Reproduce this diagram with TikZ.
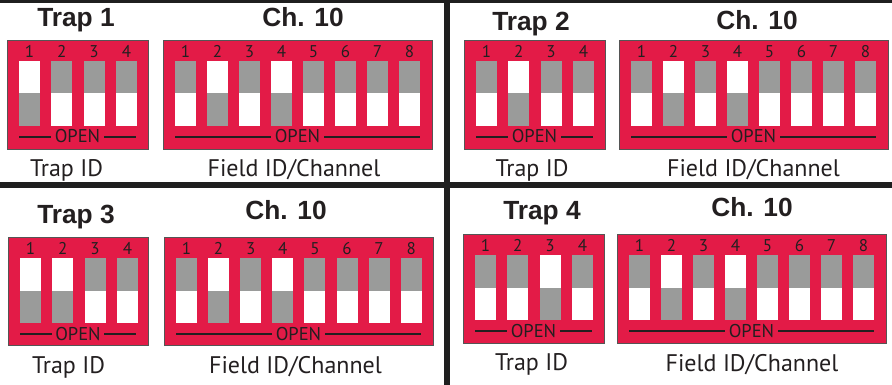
\documentclass[tikz,border=0pt]{standalone}
\usepackage{fontspec}
\setmainfont{PT Sans}
\newfontfamily\titlefont{Liberation Sans}
\definecolor{dipred}{HTML}{E31B47}
\definecolor{swgray}{HTML}{9A9B9A}
\definecolor{textdark}{HTML}{231F20}
\definecolor{boxedge}{HTML}{555555}
\tikzset{
  dipbox/.style={fill=dipred, draw=boxedge, line width=0.8pt, inner sep=0pt, outer sep=0pt},
  titlelbl/.style={font=\titlefont\bfseries\fontsize{26.3}{26.3}\selectfont, text=textdark, anchor=base, inner sep=0pt},
  caplbl/.style={font=\fontsize{24}{24}\selectfont, text=textdark, anchor=base, inner sep=0pt},
  numlbl/.style={font=\fontsize{17}{17}\selectfont, text=textdark, anchor=base, inner sep=0pt},
  openlbl/.style={font=\fontsize{18.5}{18.5}\selectfont, text=textdark, fill=dipred, anchor=base, inner xsep=3.5pt, inner ysep=0pt},
  openline/.style={draw=textdark, line width=1.2pt},
  divider/.style={fill=black!88}
}
\newcommand\dipbank[7]{%
  \node[dipbox, minimum width=#4, minimum height=#5, anchor=north west] (#1) at (#2,#3) {};
  \draw[openline] (#2+12,#3+97) -- (#2+#4-12,#3+97);
  \node[openlbl] (#1-open) at (#2+#4/2,#3+103) {OPEN};
  \foreach \i/\s in {#7}{
    \pgfmathsetmacro\sx{#2+12+(\i-1)*#6}
    \node[numlbl] (#1-n\i) at (\sx+10.5,#3+17.5) {\i};
    \fill[white] (\sx,#3+21) rectangle ++(21,65);
    \ifnum\s=1\relax
      \fill[swgray] (\sx,#3+53.5) rectangle ++(21,32.5);
    \else
      \fill[swgray] (\sx,#3+21) rectangle ++(21,32.5);
    \fi
  }%
}
\begin{document}
\begin{tikzpicture}[x=1pt,y=-1pt]
\useasboundingbox (0,0) rectangle (892,385);
\fill[white] (0,0) rectangle (892,385);
% dividers
\fill[divider] (0,0) rectangle (892,3);
\fill[divider] (0,182) rectangle (892,188);
\fill[divider] (443.5,0) rectangle (450,385);
% Trap 1
\dipbank{t1}{7}{40}{141}{109}{32.3}{1/1,2/0,3/0,4/0}
\dipbank{c1}{163}{40}{269}{109}{32}{1/0,2/1,3/0,4/1,5/0,6/0,7/0,8/0}
\node[titlelbl] (t1title) at (76,27) {Trap 1};
\node[titlelbl] (c1title) at (303,27) {Ch. 10};
\node[caplbl] (t1cap) at (66.5,177) {Trap ID};
\node[caplbl] (c1cap) at (294,177) {Field ID/Channel};
% Trap 2
\dipbank{t2}{464}{40}{141}{109}{32.3}{1/0,2/1,3/0,4/0}
\dipbank{c2}{619}{40}{269}{109}{32}{1/0,2/1,3/0,4/1,5/0,6/0,7/0,8/0}
\node[titlelbl] (t2title) at (531,31) {Trap 2};
\node[titlelbl] (c2title) at (757,30) {Ch. 10};
\node[caplbl] (t2cap) at (532,177) {Trap ID};
\node[caplbl] (c2cap) at (753.5,177) {Field ID/Channel};
% Trap 3
\dipbank{t3}{8}{237}{140}{108}{32.3}{1/1,2/1,3/0,4/0}
\dipbank{c3}{164}{237}{269}{108}{32.1}{1/0,2/1,3/0,4/1,5/0,6/0,7/0,8/0}
\node[titlelbl] (t3title) at (76,223) {Trap 3};
\node[titlelbl] (c3title) at (286,219) {Ch. 10};
\node[caplbl] (t3cap) at (68.5,373) {Trap ID};
\node[caplbl] (c3cap) at (295.5,373.5) {Field ID/Channel};
% Trap 4
\dipbank{t4}{463}{234}{141}{109}{32.3}{1/0,2/0,3/1,4/0}
\dipbank{c4}{617}{234}{269}{109}{32}{1/0,2/1,3/0,4/1,5/0,6/0,7/0,8/0}
\node[titlelbl] (t4title) at (542,219) {Trap 4};
\node[titlelbl] (c4title) at (752,216) {Ch. 10};
\node[caplbl] (t4cap) at (531.5,370) {Trap ID};
\node[caplbl] (c4cap) at (752,371.5) {Field ID/Channel};
\end{tikzpicture}
\end{document}
